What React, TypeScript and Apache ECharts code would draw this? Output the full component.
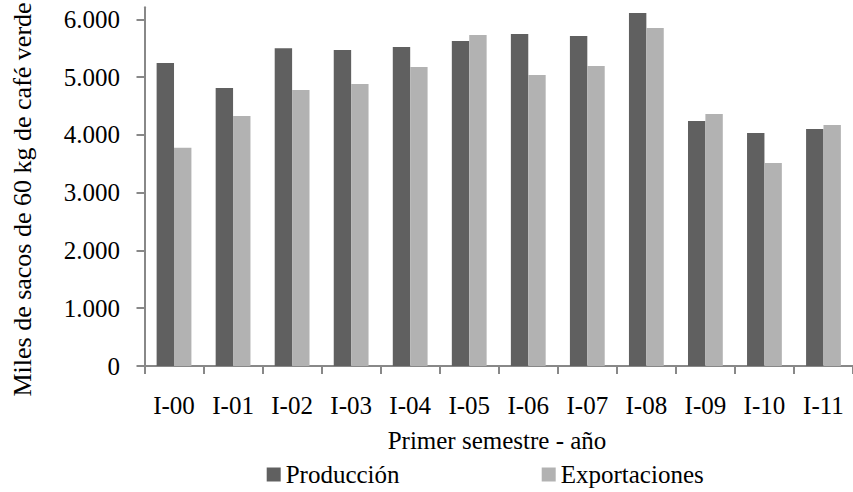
import React, { useEffect, useRef } from "react";
import * as echarts from "echarts";

const categories = ["I-00", "I-01", "I-02", "I-03", "I-04", "I-05", "I-06", "I-07", "I-08", "I-09", "I-10", "I-11"];
const produccion = [5247, 4814, 5501, 5472, 5524, 5628, 5749, 5714, 6113, 4242, 4035, 4104];
const exportaciones = [3780, 4329, 4779, 4883, 5177, 5732, 5039, 5195, 5853, 4364, 3515, 4173];
const yTicks = [0, 1000, 2000, 3000, 4000, 5000, 6000];
const yAxisMax = 6211;
const seriesNames = ["Producción", "Exportaciones"];
const yAxisTitle = "Miles de sacos de 60 kg de café verde";
const xAxisTitle = "Primer semestre - año";

const FONT = "Liberation Serif";
const FS = 25;
const AXIS_COLOR = "#888888";

function fmt(v: number): string {
  return String(v).replace(/\B(?=(\d{3})+(?!\d))/g, ".");
}

export default function App() {
  const ref = useRef<HTMLDivElement>(null);
  useEffect(() => {
    if (!ref.current) return;
    const chart = echarts.init(ref.current, undefined, { renderer: "svg" });
    const textStyle = { fontFamily: FONT, fontSize: FS, color: "#000" };
    chart.setOption({
      animation: false,
      backgroundColor: "#ffffff",
      textStyle: { fontFamily: FONT },
      grid: { left: 144.5, right: -5.8, top: 7.3, bottom: 126, containLabel: false },
      legend: [
        {
          data: [seriesNames[0]],
          left: 266.7,
          top: 462,
          padding: 0,
          icon: "rect",
          itemWidth: 14,
          itemHeight: 14,
          textStyle,
        },
        {
          data: [seriesNames[1]],
          left: 541.7,
          top: 462,
          padding: 0,
          icon: "rect",
          itemWidth: 14,
          itemHeight: 14,
          textStyle,
        },
      ],
      xAxis: {
        type: "category",
        data: categories,
        boundaryGap: true,
        axisLine: { show: true, lineStyle: { color: AXIS_COLOR, width: 2 } },
        axisTick: { show: true, inside: false, length: 8, alignWithLabel: false, interval: 0, lineStyle: { color: AXIS_COLOR, width: 2 } },
        axisLabel: { ...textStyle, margin: 27, interval: 0 },
        splitLine: { show: false },
      },
      yAxis: {
        type: "value",
        min: 0,
        max: yAxisMax,
        interval: 1000,
        axisLine: { show: true, lineStyle: { color: AXIS_COLOR, width: 2 } },
        axisTick: { show: true, inside: false, length: 8, customValues: yTicks, lineStyle: { color: AXIS_COLOR, width: 2 } },
        axisLabel: { ...textStyle, margin: 24.5, customValues: yTicks, formatter: (v: number) => fmt(v) },
        splitLine: { show: false },
      },
      graphic: [
        {
          type: "text",
          x: 22,
          y: 199.5,
          rotation: Math.PI / 2,
          style: { text: yAxisTitle, fontFamily: FONT, fontSize: 26, fill: "#000", align: "center", verticalAlign: "middle" },
        },
        {
          type: "text",
          x: 497,
          y: 440,
          style: { text: xAxisTitle, fontFamily: FONT, fontSize: FS, fill: "#000", align: "center", verticalAlign: "middle" },
        },
      ],
      series: [
        {
          name: seriesNames[0],
          type: "bar",
          data: produccion,
          barWidth: 17.4,
          barGap: "0%",
          itemStyle: { color: "#606060" },
        },
        {
          name: seriesNames[1],
          type: "bar",
          data: exportaciones,
          barWidth: 17.4,
          barGap: "0%",
          itemStyle: { color: "#b2b2b2" },
        },
      ],
    });
    return () => chart.dispose();
  }, []);
  return <div ref={ref} style={{ position: "absolute", left: 0, top: 0, width: 853, height: 492 }} />;
}
